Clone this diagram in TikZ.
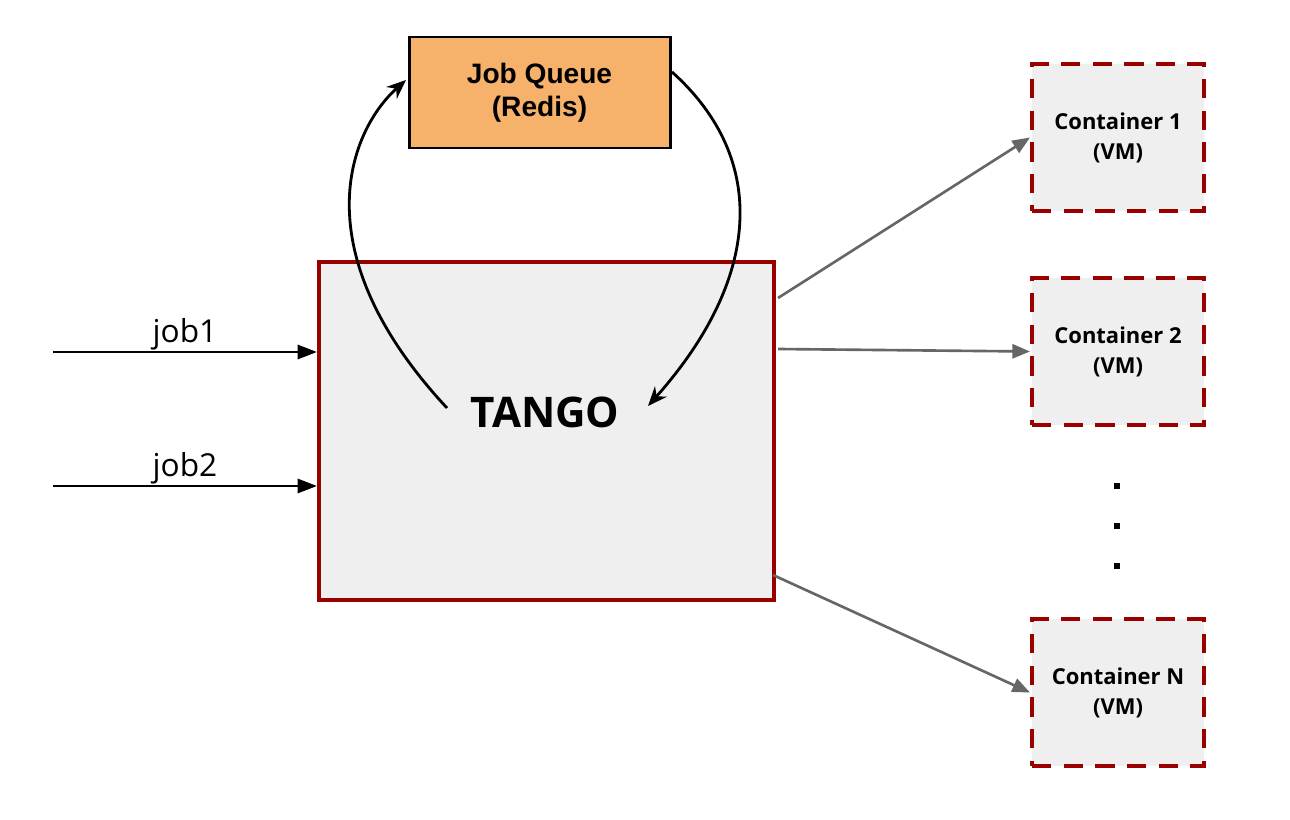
\documentclass[tikz,border=0pt]{standalone}
\usepackage{fontspec}
\setmainfont{Open Sans}
\newfontfamily\arialb{Liberation Sans}
\usetikzlibrary{arrows.meta}
\definecolor{dred}{HTML}{990000}
\definecolor{lgray}{HTML}{EFEFEF}
\definecolor{qorange}{HTML}{F6B26B}
\definecolor{agray}{HTML}{666666}
\begin{document}
\begin{tikzpicture}[x=0.02cm,y=-0.02cm,
  container/.style={draw=dred,fill=lgray,line width=2.3pt,dash pattern=on 11pt off 7pt,
    minimum width=172*0.02cm,minimum height=147*0.02cm,inner sep=0pt,align=center,
    font=\fontsize{12.5}{17}\selectfont\bfseries},
  grayarrow/.style={draw=agray,line width=1.5pt,-{Triangle[length=10pt,width=8pt]}},
  jobarrow/.style={draw=black,line width=1.6pt,-{Triangle[length=11pt,width=8pt]}},
  curvearrow/.style={draw=black,line width=1.6pt,-{Stealth[length=11pt,width=9pt]}},
  lbl/.style={font=\fontsize{18}{21}\selectfont}]
\useasboundingbox (0,0) rectangle (1290,820);
\node[draw=black,fill=qorange,line width=1.7pt,minimum width=261*0.02cm,minimum height=111*0.02cm,
  inner sep=0pt,align=center,font=\arialb\fontsize{16}{19}\selectfont\bfseries] (q) at (539.5,92.5) {Job Queue\\(Redis)};
\node[draw=dred,fill=lgray,line width=2.3pt,minimum width=455*0.02cm,minimum height=338*0.02cm,inner sep=0pt] (t) at (546.5,431) {};
\node[font=\fontsize{24}{28}\selectfont\bfseries] (tl) at (545,412) {TANGO};
\node[container] (c1) at (1118,137.5) {Container 1\\(VM)};
\node[container] (c2) at (1118,351.5) {Container 2\\(VM)};
\node[container] (cn) at (1118,692.5) {Container N\\(VM)};
\coordinate (j1s) at (53,352);
\coordinate (j2s) at (53,486);
\draw[jobarrow] (j1s) -- (t.west |- j1s) node[lbl,midway,above=-3pt] (l1) {job1};
\draw[jobarrow] (j2s) -- (t.west |- j2s) node[lbl,midway,above=-3pt] (l2) {job2};
\coordinate (g1) at (778,298);
\coordinate (g2) at (778,349);
\coordinate (g3) at (773,575);
\draw[grayarrow] (g1) -- (c1.west);
\draw[grayarrow] (g2) -- (c2.west);
\draw[grayarrow] (g3) -- (cn.west);
\coordinate (ls) at (447,408);
\coordinate (le) at (406,80);
\coordinate (rs) at (672,72);
\coordinate (re) at (648,406);
\draw[curvearrow] (ls) .. controls (300,250) and (350,130) .. (le);
\draw[curvearrow] (rs) .. controls (770,160) and (760,280) .. (re);
\foreach \y/\n in {486/d1,526/d2,566/d3} \node[fill=black,minimum size=3pt,inner sep=0pt] (\n) at (1117,\y) {};
\end{tikzpicture}
\end{document}
